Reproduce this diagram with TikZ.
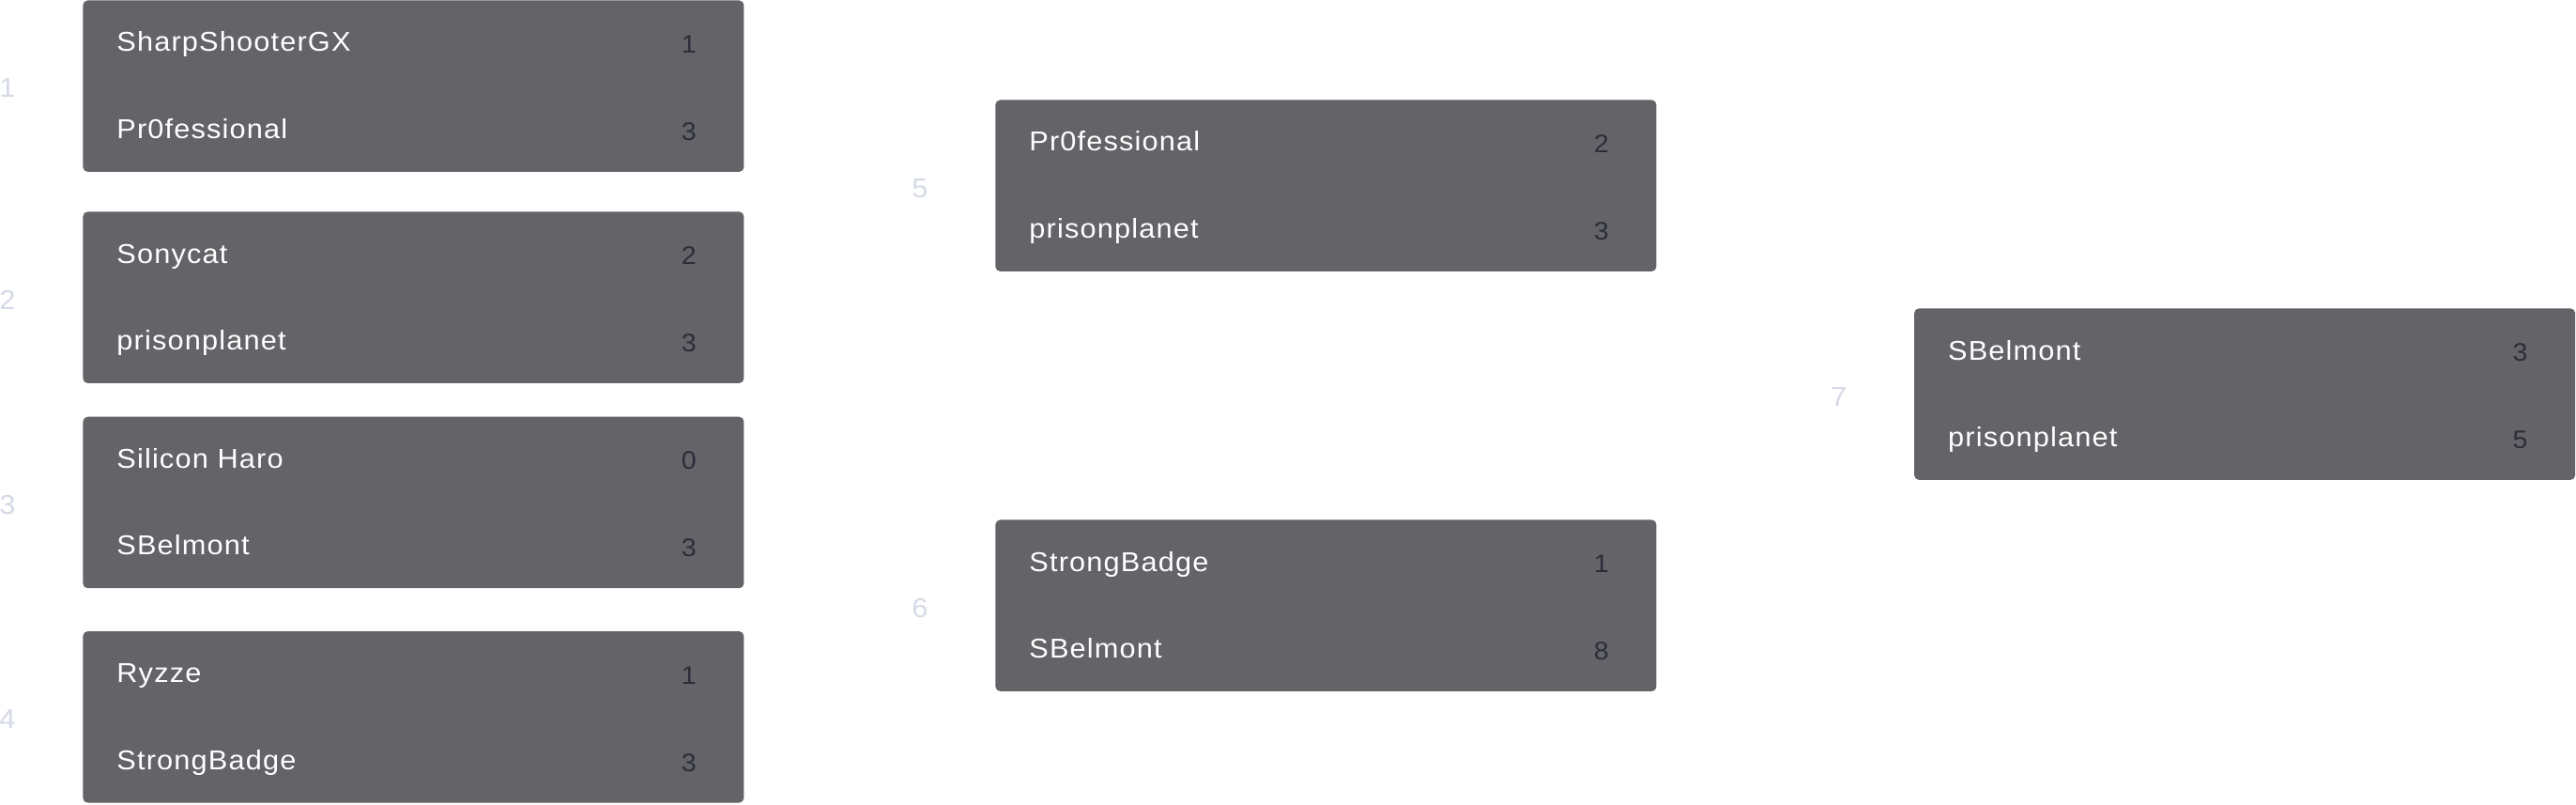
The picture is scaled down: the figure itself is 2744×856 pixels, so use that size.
\documentclass[tikz,border=0pt]{standalone}
\usepackage{fontspec}
\setmainfont{Liberation Sans}
\newfontfamily\bracketfont[FakeStretch=1.06,LetterSpace=4]{Liberation Sans}
\definecolor{boxfill}{HTML}{636368}
\definecolor{scorecol}{HTML}{2B2E39}
\definecolor{labcol}{HTML}{D5DAE7}
\tikzset{
  matchbox/.style={draw=none, fill=boxfill, rounded corners=2.5pt, minimum width=352pt, minimum height=91.25pt, anchor=north west, inner sep=0pt},
  player/.style={anchor=base west, text=white, font=\bracketfont\fontsize{14.5}{17}\selectfont, inner sep=0pt},
  score/.style={anchor=base, text=scorecol, font=\bracketfont\fontsize{13.5}{16}\selectfont, inner sep=0pt},
  roundlab/.style={anchor=base, text=labcol, font=\bracketfont\fontsize{14.5}{17}\selectfont, inner sep=0pt}
}
\newcommand{\mymatch}[8]{%
  % #1 name, #2 x, #3 y, #4 label, #5 p1, #6 s1, #7 p2, #8 s2
  \node[matchbox] (#1) at (#2,#3) {};
  \node[player] (#1p1) at ([xshift=18pt,yshift=-27.5pt]#1.north west) {#5};
  \node[score] (#1s1) at ([xshift=-29.5pt,yshift=-28.2pt]#1.north east) {#6};
  \node[player] (#1p2) at ([xshift=18pt,yshift=-73.7pt]#1.north west) {#7};
  \node[score] (#1s2) at ([xshift=-29.5pt,yshift=-74.8pt]#1.north east) {#8};
  \node[roundlab] (#1lab) at ([xshift=-40pt,yshift=-52pt]#1.north west) {#4};
}
\begin{document}
\begin{tikzpicture}[x=0.5pt,y=-0.5pt]
\useasboundingbox (0,0) rectangle (2744,856);
\mymatch{mA}{88}{0}{1}{SharpShooterGX}{1}{Pr0fessional}{3}
\mymatch{mB}{88}{225}{2}{Sonycat}{2}{prisonplanet}{3}
\mymatch{mC}{88}{443.3}{3}{Silicon Haro}{0}{SBelmont}{3}
\mymatch{mD}{88}{671.7}{4}{Ryzze}{1}{StrongBadge}{3}
\mymatch{mE}{1060}{106}{5}{Pr0fessional}{2}{prisonplanet}{3}
\mymatch{mF}{1060}{553}{6}{StrongBadge}{1}{SBelmont}{8}
\mymatch{mG}{2038.7}{328}{7}{SBelmont}{3}{prisonplanet}{5}
\end{tikzpicture}
\end{document}
